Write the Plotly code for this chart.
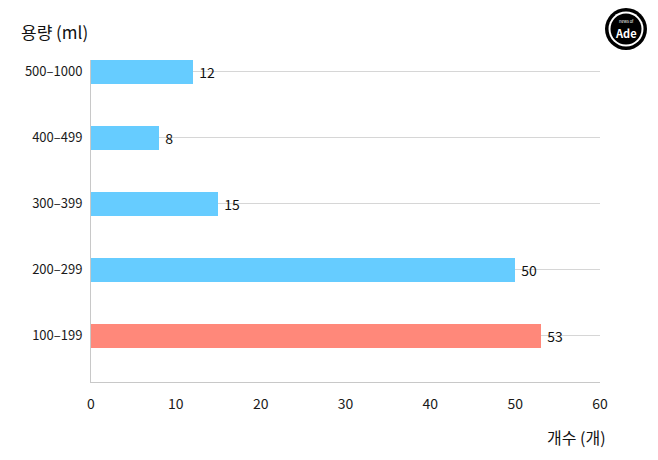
import plotly.graph_objects as go

categories = ["100–199", "200–299", "300–399", "400–499", "500–1000"]
counts = [53, 50, 15, 8, 12]
bar_colors = ["#FF887A", "#66CCFF", "#66CCFF", "#66CCFF", "#66CCFF"]
x_ticks = [0, 10, 20, 30, 40, 50, 60]

FONT = "Noto Sans CJK KR, Noto Sans, sans-serif"

OFF = 8  # page body margin
W, H = 658 - OFF, 460 - OFF
L, R, T, B = 91 - OFF, 600 - OFF, 60 - OFF, 382 - OFF

def px(x):
    return (x - OFF - L) / (R - L)
def py(y):
    return (B - (y - OFF)) / (B - T)

fig = go.Figure()
fig.add_trace(go.Bar(
    x=counts, y=categories, orientation="h",
    marker=dict(color=bar_colors, line=dict(width=0)),
    width=0.36,
    text=[str(v) for v in counts], texttemplate=" %{text}", textposition="outside",
    textfont=dict(family=FONT, size=14, color="#111"),
    cliponaxis=False,
))

cx, cy = 626, 29
shapes = []
for r, col in [(21, "#000"), (17.5, "#fff"), (15.5, "#000")]:
    shapes.append(dict(type="circle", xref="paper", yref="paper",
                       x0=px(cx - r), x1=px(cx + r), y0=py(cy + r), y1=py(cy - r),
                       fillcolor=col, line=dict(width=0), layer="above"))

fig.update_layout(
    width=W, height=H,
    margin=dict(l=L, r=W - R, t=T, b=H - B, pad=0),
    paper_bgcolor="white", plot_bgcolor="white",
    showlegend=False,
    bargap=0,
    font=dict(family=FONT, color="#222"),
    xaxis=dict(
        range=[0, 60], tickvals=x_ticks, showgrid=False, zeroline=False,
        showline=True, linecolor="#c8c8c8", linewidth=1,
        ticks="", ticklabelstandoff=9,
        tickfont=dict(family=FONT, size=14, color="#1a1a1a"),
    ),
    yaxis=dict(
        type="category", categoryorder="array", categoryarray=categories,
        range=[-0.7, 4.18], showgrid=True, gridcolor="#d6d6d6", gridwidth=1,
        zeroline=False, showline=True, linecolor="#c8c8c8", linewidth=1,
        ticks="", ticklabelstandoff=5,
        tickfont=dict(family=FONT, size=13, color="#1a1a1a"),
    ),
    shapes=shapes,
    annotations=[
        dict(text="용량 (ml)", xref="paper", yref="paper", x=px(19), y=py(31),
             xanchor="left", yanchor="middle", showarrow=False,
             font=dict(family=FONT, size=17, color="#111")),
        dict(text="개수 (개)", xref="paper", yref="paper", x=px(608), y=py(437),
             xanchor="right", yanchor="middle", showarrow=False,
             font=dict(family=FONT, size=16, color="#111")),
        dict(text="news of", xref="paper", yref="paper", x=px(cx), y=py(cy - 8),
             xanchor="center", yanchor="middle", showarrow=False,
             font=dict(family=FONT, size=4, color="#fff")),
        dict(text="<b>Ade</b>", xref="paper", yref="paper", x=px(cx), y=py(cy + 4),
             xanchor="center", yanchor="middle", showarrow=False,
             font=dict(family=FONT, size=11, color="#fff")),
    ],
)

fig.write_html("out.html")
